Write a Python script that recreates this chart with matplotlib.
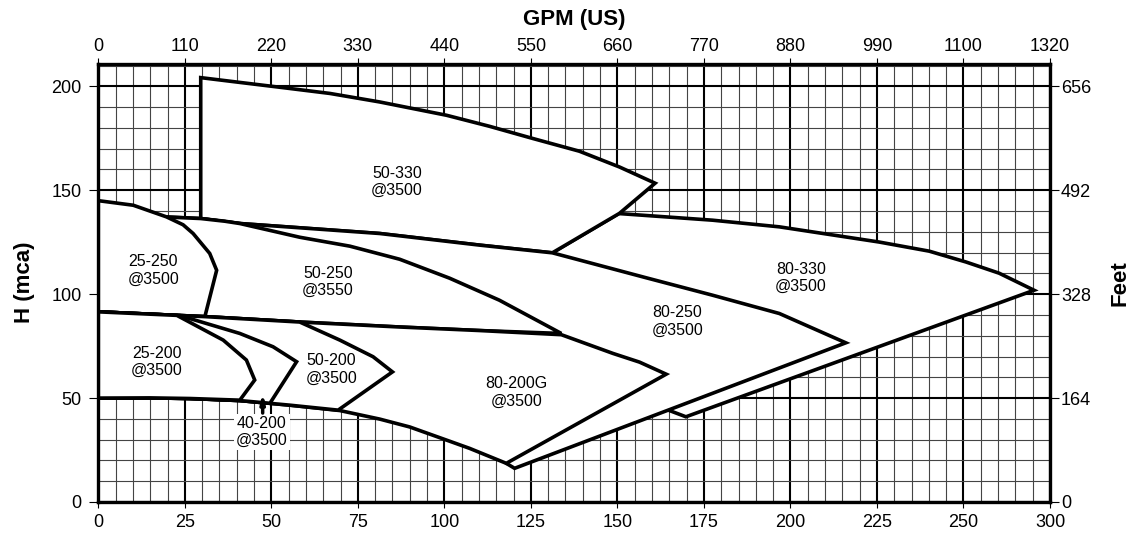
import numpy as np
import matplotlib
matplotlib.use('Agg')
import matplotlib.pyplot as plt
from matplotlib.patches import Polygon

plt.rcParams['font.family'] = ['Liberation Sans', 'DejaVu Sans']

# axis ticks: flow in m3/h (bottom), GPM (top), head in m (left), feet (right)
q_ticks = [0, 25, 50, 75, 100, 125, 150, 175, 200, 225, 250, 275]
q_labels = ['0', '25', '50', '75', '100', '125', '150', '175', '200', '225', '250', '300']
gpm_labels = ['0', '110', '220', '330', '440', '550', '660', '770', '880', '990', '1100', '1320']
h_ticks = [0, 50, 100, 150, 200]
feet_labels = ['0', '164', '328', '492', '656']

# outlines of the pump ranges (Q m3/h, H m)
q_80_330 = [131.2, 150.4, 177.5, 196.8, 225.6, 240.1, 250.7, 260.3, 270.4, 169.8, 164.1]
h_80_330 = [119.9, 138.8, 135.6, 132.4, 125.1, 120.7, 115.5, 110.1, 101.9, 41.0, 44.6]

q_50_330 = [29.6, 29.6, 40.9, 53.3, 66.9, 81.3, 100.6, 113.0, 125.6, 139.0, 150.6, 160.9,
            150.6, 131.2, 110.2, 81.3, 40.9]
h_50_330 = [136.4, 204.2, 201.9, 199.4, 196.6, 192.5, 186.1, 180.8, 174.9, 168.8, 161.2, 153.4,
            138.9, 119.9, 123.6, 129.2, 134.0]

q_80_250 = [14.9, 29.6, 40.9, 81.3, 110.2, 131.2, 158.3, 177.5, 196.8, 216.0, 120.3, 117.9,
            101.5, 87.1, 29.4, 14.9]
h_80_250 = [137.5, 136.4, 134.0, 129.2, 123.6, 119.9, 107.9, 99.5, 90.7, 76.6, 16.2, 18.6,
            58.7, 97.1, 116.3, 130.8]

q_50_250 = [14.9, 29.6, 36.6, 40.9, 58.2, 72.7, 87.1, 101.5, 115.9, 133.8,
            110.2, 87.1, 58.2, 30.8, 14.9]
h_50_250 = [137.5, 136.4, 135.1, 134.0, 127.4, 123.1, 116.8, 107.7, 97.1, 81.1,
            82.5, 84.2, 86.6, 89.2, 101.9]

q_25_250 = [0, 10.1, 19.7, 24.5, 27.4, 32.2, 34.2, 30.8, 0]
h_25_250 = [145.0, 142.8, 137.2, 133.4, 129.2, 119.6, 111.5, 89.2, 91.5]

q_80_200g = [0, 30.8, 58.2, 87.1, 110.2, 133.8, 148.7, 156.4, 164.1, 117.9,
             107.3, 100.6, 90.0, 81.3, 69.8, 55.3, 40.9, 26.5, 14.9, 0]
h_80_200g = [91.5, 89.2, 86.6, 84.2, 82.5, 80.5, 71.5, 67.3, 61.5, 18.6,
             25.8, 29.8, 36.1, 39.9, 44.0, 46.6, 48.8, 49.8, 50.1, 50.0]

q_50_200 = [0, 30.8, 58.2, 69.8, 79.4, 85.0, 69.3, 55.3, 40.9, 26.5, 14.9, 0]
h_50_200 = [91.5, 89.2, 86.6, 77.9, 69.9, 62.6, 44.2, 46.6, 48.8, 49.8, 50.1, 50.0]

q_40_200 = [0, 23.6, 40.9, 50.5, 57.3, 49.6, 40.9, 26.5, 14.9, 0]
h_40_200 = [91.5, 89.7, 81.1, 74.7, 67.5, 47.5, 48.8, 49.8, 50.1, 50.0]

q_25_200 = [0, 22.7, 36.1, 42.8, 45.2, 40.9, 26.5, 14.9, 0]
h_25_200 = [91.5, 89.8, 77.9, 68.3, 58.7, 49.0, 49.8, 50.1, 50.0]

# region labels
names = ['50-330\n@3500', '80-330\n@3500', '80-250\n@3500', '50-250\n@3550', '25-250\n@3500',
         '80-200G\n@3500', '50-200\n@3500', '25-200\n@3500']
label_q = [86.3, 203.0, 167.4, 66.4, 15.9, 120.8, 67.4, 16.9]
label_h = [154.0, 107.9, 86.9, 106.0, 111.3, 52.6, 63.7, 67.5]

fig = plt.figure(figsize=(11.35, 5.35), dpi=100)
ax = fig.add_axes([0.0866, 0.0617, 0.8385, 0.8196])
ax.set_xlim(0, 275)
ax.set_ylim(0, 211)

ax.set_xticks(q_ticks)
ax.set_xticklabels(q_labels)
ax.set_xticks(np.arange(0, 276, 5), minor=True)
ax.set_yticks(h_ticks)
ax.set_yticks(np.arange(0, 211, 10), minor=True)
ax.grid(which='minor', color='#444444', lw=0.8)
ax.grid(which='major', color='black', lw=1.5)
ax.set_axisbelow(True)
ax.tick_params(which='minor', length=0)
ax.tick_params(axis='x', which='major', length=4.3, width=0.8, pad=4, labelsize=13)
ax.tick_params(axis='y', which='major', length=6.5, width=0.8, pad=5.5, labelsize=13)
for s in ax.spines.values():
    s.set_linewidth(2.4)
ax.set_ylabel('H (mca)', fontsize=16, fontweight='bold', labelpad=12)

# ranges painted back to front, each one hides the hidden edges of the earlier ones
regions = [(q_80_330, h_80_330), (q_50_330, h_50_330), (q_80_250, h_80_250),
           (q_50_250, h_50_250), (q_25_250, h_25_250), (q_80_200g, h_80_200g),
           (q_50_200, h_50_200), (q_40_200, h_40_200), (q_25_200, h_25_200)]
for i, (q, h) in enumerate(regions):
    p = Polygon(np.column_stack([q, h]), closed=True, facecolor='white', edgecolor='black',
                lw=2.6, joinstyle='miter', zorder=1 + 0.1 * i)
    ax.add_patch(p)

for t, x, y in zip(names, label_q, label_h):
    ax.text(x, y, t, ha='center', va='center', fontsize=11.5, zorder=5)

ax.text(47.3, 33.7, '40-200\n@3500', ha='center', va='center', fontsize=11.5, zorder=5,
        bbox=dict(facecolor='white', edgecolor='none', pad=1.5))
ax.annotate('', xy=(47.5, 52.6), xytext=(47.5, 42.8), zorder=6,
            arrowprops=dict(arrowstyle='-|>,head_length=0.5,head_width=0.12', color='black',
                            lw=2.5, shrinkA=0, shrinkB=0))

ax_top = ax.twiny()
ax_top.set_xlim(0, 275)
ax_top.set_xticks(q_ticks)
ax_top.set_xticklabels(gpm_labels)
ax_top.tick_params(axis='x', length=4.3, width=0.8, pad=2, labelsize=13)
ax_top.set_xlabel('GPM (US)', fontsize=16, fontweight='bold', labelpad=9)
for s in ax_top.spines.values():
    s.set_visible(False)

ax_right = ax.twinx()
ax_right.set_ylim(0, 211)
ax_right.set_yticks(h_ticks)
ax_right.set_yticklabels(feet_labels)
ax_right.tick_params(axis='y', length=6.5, width=0.8, pad=1.5, labelsize=13)
ax_right.set_ylabel('Feet', fontsize=16, fontweight='bold', labelpad=13)
for s in ax_right.spines.values():
    s.set_visible(False)

fig.savefig('out.png', dpi=100)
